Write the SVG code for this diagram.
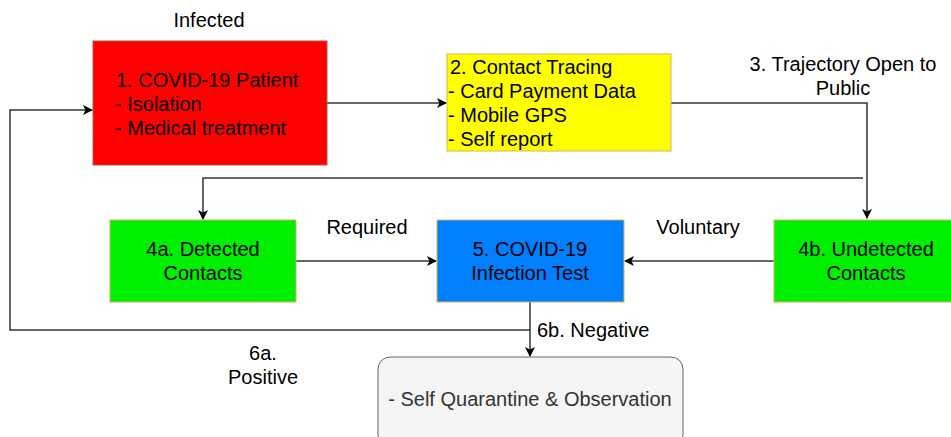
<svg xmlns="http://www.w3.org/2000/svg" width="951" height="437" viewBox="0 0 951 437">
  <style>
    text { font-family: "Liberation Sans", Arial, Helvetica, sans-serif; font-size: 20px; fill: #000; }
    .mid { text-anchor: middle; }
    .edge { fill: none; stroke: #333; stroke-width: 1.5; }
    .arr { marker-end: url(#arrow); }
  </style>
  <defs>
    <marker id="arrow" viewBox="0 0 10 10" refX="9" refY="5" markerWidth="10" markerHeight="10" markerUnits="userSpaceOnUse" orient="auto">
      <path d="M0,0 L10,5 L0,10 L2.5,5 Z" fill="#000"/>
    </marker>
  </defs>
  <rect width="951" height="437" fill="#fff"/>

  <!-- connectors -->
  <g id="connectors">
    <path class="edge arr" d="M327,103 L446,103"/>
    <path class="edge arr" d="M671,103 L867,103 L867,218"/>
    <path class="edge arr" d="M863,178 L203,178 L203,219"/>
    <path class="edge arr" d="M296,261 L436,261"/>
    <path class="edge arr" d="M774,261 L625,261"/>
    <path class="edge arr" d="M530,302 L530,356"/>
    <path class="edge arr" d="M530,330 L10,330 L10,110 L92,110"/>
    <text x="209" y="27" class="mid">Infected</text>
    <text x="843" y="71" class="mid">3. Trajectory Open to</text>
    <text x="843" y="95" class="mid">Public</text>
    <text x="367" y="234" class="mid">Required</text>
    <text x="698" y="234" class="mid">Voluntary</text>
    <text x="537" y="337">6b. Negative</text>
    <text x="263" y="360" class="mid">6a.</text>
    <text x="263" y="384" class="mid">Positive</text>
  </g>

  <g id="patient">
    <rect x="93" y="41" width="234" height="124" fill="#ff0000" stroke="#b85450"/>
    <text x="116" y="87">1. COVID-19 Patient</text>
    <text x="115" y="111">- Isolation</text>
    <text x="115" y="135">- Medical treatment</text>
  </g>

  <g id="tracing">
    <rect x="447" y="54" width="224" height="97" fill="#ffff00" stroke="#d6b656"/>
    <text x="450" y="74">2. Contact Tracing</text>
    <text x="448" y="98">- Card Payment Data</text>
    <text x="448" y="122">- Mobile GPS</text>
    <text x="448" y="146">- Self report</text>
  </g>

  <g id="detected">
    <rect x="110" y="220" width="186" height="82" fill="#00ee00" stroke="#d6b656"/>
    <text x="203" y="256" class="mid">4a. Detected</text>
    <text x="203" y="280" class="mid">Contacts</text>
  </g>

  <g id="test">
    <rect x="437" y="220" width="187" height="82" fill="#007fff" stroke="#d6b656"/>
    <text x="530" y="256" class="mid">5. COVID-19</text>
    <text x="530" y="280" class="mid">Infection Test</text>
  </g>

  <g id="undetected">
    <rect x="774" y="220" width="186" height="82" fill="#00ee00" stroke="#d6b656"/>
    <text x="866" y="256" class="mid">4b. Undetected</text>
    <text x="866" y="280" class="mid">Contacts</text>
  </g>

  <g id="quarantine">
    <rect x="378" y="357" width="305" height="90" rx="12" fill="#f5f5f5" stroke="#666"/>
    <text x="530" y="406" class="mid" style="fill:#333">- Self Quarantine &amp; Observation</text>
  </g>
</svg>
